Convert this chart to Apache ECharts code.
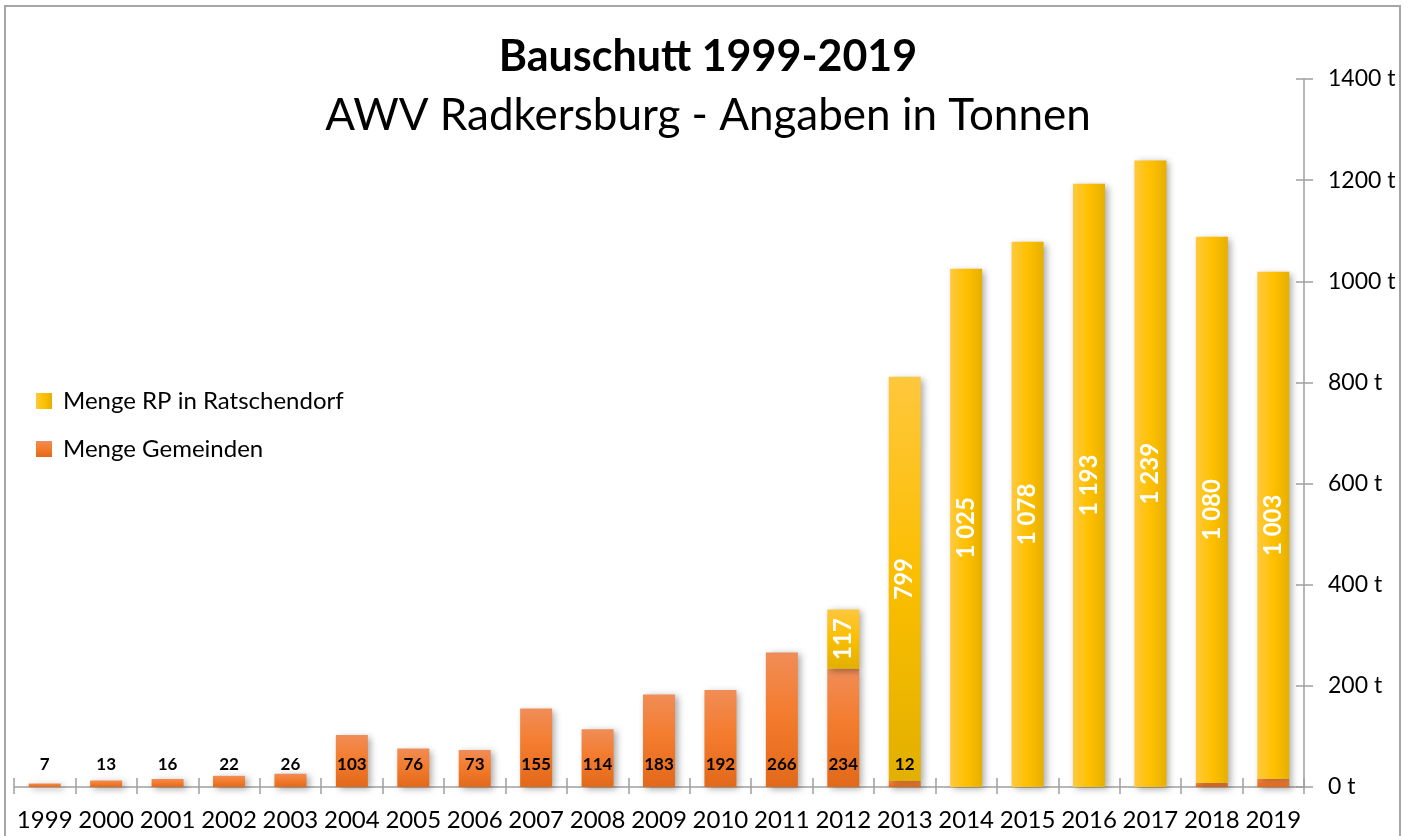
<!DOCTYPE html>
<html>
<head>
<meta charset="utf-8">
<script src="https://cdn.jsdelivr.net/npm/echarts@6/dist/echarts.min.js"></script>
<style>html,body{margin:0;padding:0;background:#fff}#c{width:1416px;height:836px}</style>
</head>
<body>
<div id="c"></div>
<script>
const years = ['1999','2000','2001','2002','2003','2004','2005','2006','2007','2008','2009','2010','2011','2012','2013','2014','2015','2016','2017','2018','2019'];
const gemeinden = [7,13,16,22,26,103,76,73,155,114,183,192,266,234,12,0,0,0,0,8,16];
const gemeindenLabelled = [1,1,1,1,1,1,1,1,1,1,1,1,1,1,1,0,0,0,0,0,0];
const rp = [null,null,null,null,null,null,null,null,null,null,null,null,null,117,799,1025,1078,1193,1239,1080,1003];
const yTicks = [0,200,400,600,800,1000,1200,1400];

const FONT = 'Lato, "Open Sans", sans-serif';
const fmt = v => String(v).replace(/\B(?=(\d{3})+(?!\d))/g, ' ');

const orangeGrad = new echarts.graphic.LinearGradient(0,0,0,1,[
  {offset:0,color:'#F08D57'},{offset:0.45,color:'#F47C2E'},{offset:1,color:'#E2691A'}]);
const yellowH = new echarts.graphic.LinearGradient(0,0,1,0,[
  {offset:0,color:'#FFC93E'},{offset:0.5,color:'#FFC000'},{offset:1,color:'#E6B000'}]);
const yellowV = new echarts.graphic.LinearGradient(0,0,0,1,[
  {offset:0,color:'#FFC73C'},{offset:0.5,color:'#FBBE00'},{offset:1,color:'#E2B000'}]);

const shadow = {shadowBlur:7, shadowColor:'rgba(0,0,0,0.35)', shadowOffsetX:3, shadowOffsetY:2};

const rpData = rp.map((v,i) => {
  if (v === null) return null;
  if (years[i] === '2012' || years[i] === '2013') return {value:v, itemStyle:{color:yellowV}};
  return v;
});

const chart = echarts.init(document.getElementById('c'), null, {renderer:'canvas'});
chart.setOption({
  backgroundColor:'#fff',
  animation:false,
  textStyle:{fontFamily:FONT},
  title:[
    {text:'Bauschutt 1999-2019', left:'center', top:27,
     textStyle:{fontFamily:FONT, fontSize:43, fontWeight:'bold', color:'#000', lineHeight:50}},
    {text:'AWV Radkersburg - Angaben in Tonnen', left:'center', top:86,
     textStyle:{fontFamily:FONT, fontSize:44, fontWeight:'normal', color:'#000', lineHeight:50}}
  ],
  legend:{
    data:['Menge RP in Ratschendorf','Menge Gemeinden'],
    orient:'vertical', left:31, top:384,
    itemWidth:16, itemHeight:16, itemGap:24, icon:'rect',
    textStyle:{fontFamily:FONT, fontSize:24, color:'#000', lineHeight:24, padding:[0,0,0,6]}
  },
  grid:{left:14, right:112, top:79, bottom:49, containLabel:false},
  xAxis:[
    {type:'category', data:years, position:'bottom',
     axisLine:{show:true, lineStyle:{color:'#A0A0A0', width:1.5}},
     axisTick:{show:true, inside:false, length:7, lineStyle:{color:'#A0A0A0', width:1.5}},
     axisLabel:{fontFamily:FONT, fontSize:24, color:'#000', margin:21, interval:0}},
    {type:'category', data:years, position:'bottom',
     axisLine:{show:false},
     axisTick:{show:true, inside:true, length:9, lineStyle:{color:'#A0A0A0', width:1.5}},
     axisLabel:{show:false}}
  ],
  yAxis:[
    {type:'value', position:'right', min:0, max:1400, interval:200,
     axisLine:{show:true, lineStyle:{color:'#A0A0A0', width:1.5}},
     axisTick:{show:true, inside:false, length:9, lineStyle:{color:'#A0A0A0', width:1.5}},
     splitLine:{show:false},
     axisLabel:{fontFamily:FONT, fontSize:23, color:'#000', margin:24,
       formatter: v => yTicks.includes(v) ? v + ' t' : ''}},
    {type:'value', position:'right', min:0, max:1400, interval:200,
     axisLine:{show:false},
     axisTick:{show:true, inside:true, length:8, lineStyle:{color:'#A0A0A0', width:1.5}},
     splitLine:{show:false}, axisLabel:{show:false}}
  ],
  series:[
    {name:'Menge Gemeinden', type:'bar', stack:'t', barWidth:32, data:gemeinden,
     xAxisIndex:0, yAxisIndex:0,
     itemStyle:Object.assign({color:orangeGrad}, shadow),
     label:{show:true, position:'insideBottom', distance:14,
       fontFamily:FONT, fontSize:17, fontWeight:'bold', color:'#000',
       formatter: p => gemeindenLabelled[p.dataIndex] ? fmt(p.value) : ''}},
    {name:'Menge RP in Ratschendorf', type:'bar', stack:'t', barWidth:32, data:rpData,
     xAxisIndex:0, yAxisIndex:0,
     itemStyle:Object.assign({color:yellowH}, shadow),
     label:{show:true, position:'inside', rotate:90,
       fontFamily:FONT, fontSize:24, fontWeight:'bold', color:'#fff',
       formatter: p => p.value == null ? '' : fmt(p.value)}}
  ],
  graphic:[
    {type:'rect', z:100, silent:true,
     shape:{x:5, y:6, width:1395, height:840},
     style:{fill:'none', stroke:'#A6A6A6', lineWidth:2}}
  ]
});
</script>
</body>
</html>
